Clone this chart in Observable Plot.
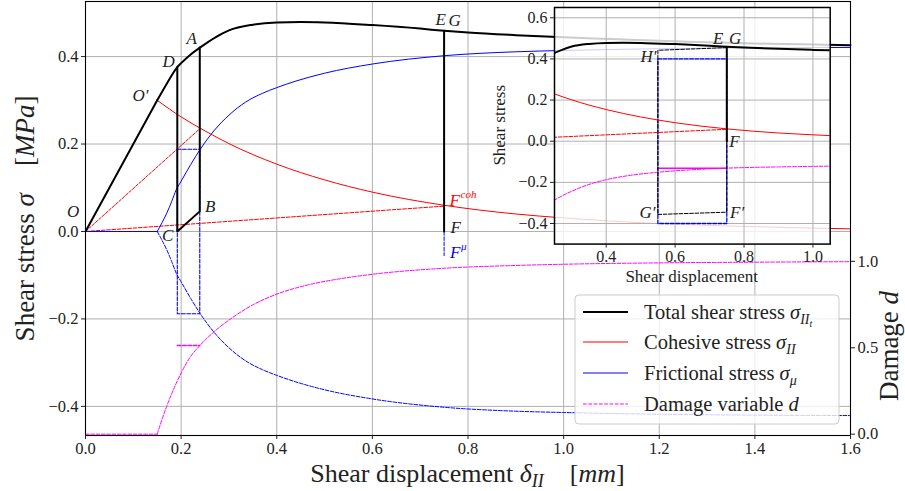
<!DOCTYPE html>
<html><head><meta charset="utf-8">
<script src="https://cdn.jsdelivr.net/npm/d3@7"></script>
<script src="https://cdn.jsdelivr.net/npm/@observablehq/plot@0.6"></script>
<style>
body{margin:0;background:#fff;}
#wrap{position:relative;width:905px;height:491px;overflow:hidden;font-family:"Liberation Serif",serif;}
#wrap svg{position:absolute;overflow:visible;}
</style></head><body><div id="wrap"></div>
<script>
// ---------- data ----------
const xTicks = [0, 0.2, 0.4, 0.6, 0.8, 1.0, 1.2, 1.4, 1.6];
const yTicks = [-0.4, -0.2, 0, 0.2, 0.4];
const dTicks = [0, 0.5, 1.0];
const insetXTicks = [0.4, 0.6, 0.8, 1.0];
const insetYTicks = [-0.4, -0.2, 0, 0.2, 0.4, 0.6];

const dispTotal = [0, 0.15, 0.17, 0.192, 0.2, 0.22, 0.24, 0.27, 0.3, 0.35, 0.4, 0.45, 0.5, 0.6, 0.7, 0.75, 0.8, 0.9, 1.0, 1.1, 1.2, 1.3, 1.4, 1.5, 1.6];
const totalStress = [0, 0.30, 0.338, 0.376, 0.385, 0.405, 0.421, 0.443, 0.46, 0.473, 0.478, 0.479, 0.478, 0.472, 0.464, 0.459, 0.455, 0.449, 0.444, 0.44, 0.436, 0.433, 0.43, 0.428, 0.426];

const dispCoh = [0.15, 0.2, 0.25, 0.3, 0.4, 0.5, 0.6, 0.75, 0.9, 1.0, 1.2, 1.4, 1.6];
const cohStress = [0.30, 0.262, 0.23, 0.201, 0.154, 0.118, 0.09, 0.06, 0.04, 0.031, 0.018, 0.011, 0.006];

const dispFric = [0, 0.15, 0.16, 0.17, 0.18, 0.19, 0.2, 0.22, 0.24, 0.27, 0.3, 0.335, 0.37, 0.4, 0.44, 0.5, 0.6, 0.75, 0.9, 1.0, 1.2, 1.4, 1.6];
const fricStress = [0, 0, 0.02, 0.042, 0.068, 0.096, 0.115, 0.153, 0.188, 0.232, 0.266, 0.296, 0.316, 0.329, 0.344, 0.362, 0.383, 0.402, 0.411, 0.414, 0.418, 0.42, 0.421];

const dispDamage = [0, 0.15, 0.16, 0.17, 0.18, 0.19, 0.2, 0.22, 0.24, 0.27, 0.3, 0.35, 0.4, 0.46, 0.53, 0.6, 0.75, 0.9, 1.0, 1.2, 1.4, 1.6];
const damage = [0, 0, 0.085, 0.162, 0.232, 0.296, 0.354, 0.45, 0.515, 0.595, 0.66, 0.748, 0.81, 0.86, 0.898, 0.925, 0.96, 0.976, 0.983, 0.991, 0.995, 0.998];

// unloading / reloading paths (main)
const cycleX = [0.192, 0.192, 0.239, 0.239];          // D C B A
const cycleY = [0.376, 0, 0.046, 0.421];
const cohSecantX = [0, 0.239], cohSecantY = [0, 0.235];
const cohSecant2X = [0, 0.75], cohSecant2Y = [0, 0.058];
const fricBoxX = [0.192, 0.239, 0.239, 0.192, 0.192];
const fricBoxY = [0.188, 0.188, -0.188, -0.188, 0.188];
const damageHoldX = [0.192, 0.239], damageHoldY = [0.513, 0.513];
const unloadEX = [0.75, 0.75], unloadEY = [0.459, 0];
const fricDropX = [0.75, 0.75], fricDropY = [0, -0.055];

// inset paths
const insetFricBoxX = [0.55, 0.75, 0.75, 0.55, 0.55];
const insetFricBoxY = [0.40, 0.40, -0.40, -0.40, 0.40];
const insetPathX = [0.75, 0.55, 0.55, 0.75, 0.75];     // E H' G' F' F
const insetPathY = [0.455, 0.442, -0.356, -0.345, 0];
const insetHoldX = [0.55, 0.75], insetHoldD = [0.96, 0.96];

// point labels
const mainLabelText = ["O", "O\u2032", "D", "A", "B", "C", "E", "G", "F"];
const mainLabelX = [-0.026, 0.115, 0.174, 0.222, 0.261, 0.172, 0.743, 0.772, 0.774];
const mainLabelY = [0.046, 0.311, 0.389, 0.442, 0.056, -0.01, 0.484, 0.482, 0.009];
const insetLabelText = ["E", "G", "H\u2032", "F", "G\u2032", "F\u2032"];
const insetLabelX = [0.725, 0.774, 0.523, 0.772, 0.52, 0.78];
const insetLabelY = [0.498, 0.498, 0.414, 0.0, -0.345, -0.345];

// ---------- scales ----------
const yDom = [-0.4666, 0.526];
const dDom = [-0.0076, 2.503];          // twin (damage) axis of the main chart
const yDomI = [-0.5, 0.65];
const dDomI = [-0.027, 3.048];          // damage mapping inside the inset
const dToY = d => yDom[0] + (d - dDom[0]) / (dDom[1] - dDom[0]) * (yDom[1] - yDom[0]);
const yToD = y => dDom[0] + (y - yDom[0]) / (yDom[1] - yDom[0]) * (dDom[1] - dDom[0]);
const dToYI = d => yDomI[0] + (d - dDomI[0]) / (dDomI[1] - dDomI[0]) * (yDomI[1] - yDomI[0]);

const rows = (xs, ys, f = v => v) => xs.map((x, i) => ({x, y: f(ys[i])}));
const FONT = "Liberation Serif";
const RED = "#ff0000", BLUE = "#0000ff", MAG = "#ff00ff";
const fmt = d3.format(".1f");
const GRID = {stroke: "#b0b0b0", strokeOpacity: 1, strokeWidth: 1};

// ---------- main chart ----------
const main = Plot.plot({
  width: 905, height: 491,
  marginLeft: 85, marginRight: 55, marginTop: 1, marginBottom: 56,
  style: {fontFamily: FONT, fontSize: "16.5px", color: "#222", background: "transparent", overflow: "visible"},
  x: {domain: [0, 1.6]},
  y: {domain: yDom},
  marks: [
    Plot.gridX(xTicks, GRID),
    Plot.gridY(yTicks, GRID),
    // damage (twin axis)
    Plot.line(rows(dispDamage.slice(0, 2), damage.slice(0, 2), dToY), {x: "x", y: "y", stroke: MAG, strokeWidth: 1, strokeDasharray: "3.7,1.6"}),
    Plot.line(rows(dispDamage.slice(1), damage.slice(1), dToY), {x: "x", y: "y", stroke: MAG, strokeWidth: 1, strokeDasharray: "3.7,1.6", curve: "monotone-x"}),
    Plot.line(rows(damageHoldX, damageHoldY, dToY), {x: "x", y: "y", stroke: MAG, strokeWidth: 1.3, strokeDasharray: "3.7,1.6"}),
    // frictional (negative, dashed)
    Plot.line(rows(dispFric.slice(1), fricStress.slice(1), v => -v), {x: "x", y: "y", stroke: BLUE, strokeWidth: 1, strokeDasharray: "3.7,1.6", curve: "monotone-x"}),
    Plot.line(rows(fricBoxX, fricBoxY), {x: "x", y: "y", stroke: BLUE, strokeWidth: 1.1, strokeDasharray: "3.7,1.6"}),
    Plot.line(rows(fricDropX, fricDropY), {x: "x", y: "y", stroke: BLUE, strokeWidth: 1, strokeDasharray: "3.7,1.6"}),
    // cohesive secants
    Plot.line(rows(cohSecantX, cohSecantY), {x: "x", y: "y", stroke: RED, strokeWidth: 1, strokeDasharray: "3,1.5"}),
    Plot.line(rows(cohSecant2X, cohSecant2Y), {x: "x", y: "y", stroke: RED, strokeWidth: 1, strokeDasharray: "3.7,1.6"}),
    // frictional (solid)
    Plot.line(rows(dispFric.slice(0, 2), fricStress.slice(0, 2)), {x: "x", y: "y", stroke: BLUE, strokeWidth: 1}),
    Plot.line(rows(dispFric.slice(1), fricStress.slice(1)), {x: "x", y: "y", stroke: BLUE, strokeWidth: 1, curve: "monotone-x"}),
    // cohesive
    Plot.line(rows(dispCoh, cohStress), {x: "x", y: "y", stroke: RED, strokeWidth: 1, curve: "monotone-x"}),
    // total
    Plot.line(rows(dispTotal.slice(0, 2), totalStress.slice(0, 2)), {x: "x", y: "y", stroke: "black", strokeWidth: 2}),
    Plot.line(rows(dispTotal.slice(1), totalStress.slice(1)), {x: "x", y: "y", stroke: "black", strokeWidth: 2, curve: "monotone-x"}),
    Plot.line(rows(cycleX, cycleY), {x: "x", y: "y", stroke: "black", strokeWidth: 2}),
    Plot.line(rows(unloadEX, unloadEY), {x: "x", y: "y", stroke: "black", strokeWidth: 2}),
    // labels
    Plot.text(mainLabelText, {x: (d, i) => mainLabelX[i], y: (d, i) => mainLabelY[i], text: d => d, fontStyle: "italic", fontSize: 17, fill: "#222"}),
    Plot.text(["F"], {x: [0.772], y: [0.07], text: d => d, fontStyle: "italic", fontSize: 17, fill: RED}),
    Plot.text(["coh"], {x: [0.772], y: [0.07], text: d => d, fontStyle: "italic", fontSize: 11, fill: RED, textAnchor: "start", dx: 6, dy: -6}),
    Plot.text(["F"], {x: [0.773], y: [-0.048], text: d => d, fontStyle: "italic", fontSize: 17, fill: BLUE}),
    Plot.text(["\u03bc"], {x: [0.773], y: [-0.048], text: d => d, fontStyle: "italic", fontSize: 11, fill: BLUE, textAnchor: "start", dx: 6, dy: -6}),
    Plot.frame({stroke: "black", strokeWidth: 1.1}),
    Plot.axisX(xTicks, {tickSize: 4, tickPadding: 3, tickFormat: fmt, label: null}),
    Plot.axisY(yTicks, {anchor: "left", tickSize: 4, tickPadding: 3, tickFormat: fmt, label: null}),
    Plot.axisY(dTicks.map(dToY), {anchor: "right", tickSize: 4, tickPadding: 3, tickFormat: v => fmt(yToD(v)), label: null})
  ]
});
main.style.left = "0px"; main.style.top = "0px";
document.getElementById("wrap").appendChild(main);

const msvg = d3.select(main);
function addRich(g, parts) {
  parts.forEach(p => {
    const t = g.append("tspan").text(p.t);
    if (p.i) t.attr("font-style", "italic");
    if (p.dy) t.attr("dy", p.dy);
    if (p.fs) t.attr("font-size", p.fs);
  });
}
// axis titles
const lt = msvg.append("text").attr("transform", "translate(34,218.5) rotate(-90)")
  .attr("text-anchor", "middle").attr("font-size", 27).attr("fill", "#222").attr("font-family", FONT).style("white-space", "pre");
addRich(lt, [{t: "Shear stress "}, {t: "\u03c3", i: 1}, {t: "\u2003["}, {t: "MPa", i: 1}, {t: "]"}]);
const bt = msvg.append("text").attr("x", 467.5).attr("y", 482)
  .attr("text-anchor", "middle").attr("font-size", 26).attr("fill", "#222").attr("font-family", FONT).style("white-space", "pre");
addRich(bt, [{t: "Shear displacement "}, {t: "\u03b4", i: 1}, {t: "II", i: 1, dy: 5, fs: 18}, {t: "\u2003[", dy: -5}, {t: "mm", i: 1}, {t: "]"}]);
const rt = msvg.append("text").attr("transform", "translate(898,346) rotate(-90)")
  .attr("text-anchor", "middle").attr("font-size", 27).attr("fill", "#222").attr("font-family", FONT);
addRich(rt, [{t: "Damage "}, {t: "d", i: 1}]);

// legend
const legendNames = ["Total shear stress", "Cohesive stress", "Frictional stress", "Damage variable"];
const legendColors = ["black", RED, BLUE, MAG];
const legendWidths = [2, 1, 1, 1];
const legendDash = [null, null, null, "3.7,1.6"];
const lg = msvg.append("g").attr("font-family", FONT).attr("font-size", 20.5).attr("fill", "#222");
lg.append("rect").attr("x", 575).attr("y", 295).attr("width", 264).attr("height", 129).attr("rx", 4)
  .attr("fill", "white").attr("fill-opacity", 0.8).attr("stroke", "#cccccc");
const ly = [312, 342, 373, 404];
legendNames.forEach((n, i) => {
  const l = lg.append("line").attr("x1", 583).attr("x2", 628).attr("y1", ly[i]).attr("y2", ly[i])
    .attr("stroke", legendColors[i]).attr("stroke-width", legendWidths[i]);
  if (legendDash[i]) l.attr("stroke-dasharray", legendDash[i]);
  const t = lg.append("text").attr("x", 644).attr("y", ly[i] + 7).attr("text-anchor", "start").style("white-space", "pre");
  if (i === 0) addRich(t, [{t: n + " "}, {t: "\u03c3", i: 1}, {t: "II", i: 1, dy: 5, fs: 14}, {t: "t", i: 1, dy: 3, fs: 10}]);
  if (i === 1) addRich(t, [{t: n + " "}, {t: "\u03c3", i: 1}, {t: "II", i: 1, dy: 5, fs: 14}]);
  if (i === 2) addRich(t, [{t: n + " "}, {t: "\u03c3", i: 1}, {t: "\u03bc", i: 1, dy: 5, fs: 14}]);
  if (i === 3) addRich(t, [{t: n + " "}, {t: "d", i: 1}]);
});

// ---------- inset ----------
const inset = Plot.plot({
  width: 358.7, height: 289.6,
  marginLeft: 75, marginRight: 8, marginTop: 5, marginBottom: 48,
  style: {fontFamily: FONT, fontSize: "16px", color: "#222", background: "transparent", overflow: "visible"},
  x: {domain: [0.25, 1.05]},
  y: {domain: yDomI},
  marks: [
    Plot.frame({fill: "white", fillOpacity: 0.8, stroke: null}),
    Plot.gridX(insetXTicks, GRID),
    Plot.gridY(insetYTicks, GRID),
    Plot.line(rows(dispDamage, damage, dToYI), {x: "x", y: "y", stroke: MAG, strokeWidth: 1, strokeDasharray: "3.7,1.6", curve: "monotone-x", clip: true}),
    Plot.line(rows(insetHoldX, insetHoldD, dToYI), {x: "x", y: "y", stroke: MAG, strokeWidth: 1.5}),
    Plot.line(rows(insetFricBoxX, insetFricBoxY), {x: "x", y: "y", stroke: BLUE, strokeWidth: 1.3, strokeDasharray: "3.7,1.6"}),
    Plot.line(rows(insetPathX, insetPathY), {x: "x", y: "y", stroke: "black", strokeWidth: 1, strokeDasharray: "3.7,1.6"}),
    Plot.line(rows(cohSecant2X, cohSecant2Y), {x: "x", y: "y", stroke: RED, strokeWidth: 1, strokeDasharray: "3.7,1.6", clip: true}),
    Plot.line(rows(dispCoh, cohStress), {x: "x", y: "y", stroke: RED, strokeWidth: 1, curve: "monotone-x", clip: true}),
    Plot.line(rows(dispTotal.slice(1), totalStress.slice(1)), {x: "x", y: "y", stroke: "black", strokeWidth: 2, curve: "monotone-x", clip: true}),
    Plot.line(rows(unloadEX, unloadEY), {x: "x", y: "y", stroke: "black", strokeWidth: 2}),
    Plot.text(insetLabelText, {x: (d, i) => insetLabelX[i], y: (d, i) => insetLabelY[i], text: d => d, fontStyle: "italic", fontSize: 17, fill: "#222"}),
    Plot.frame({stroke: "black", strokeWidth: 1.5}),
    Plot.axisX(insetXTicks, {tickSize: 4, tickPadding: 3, tickFormat: fmt, label: null}),
    Plot.axisY(insetYTicks, {anchor: "left", tickSize: 4, tickPadding: 3, tickFormat: fmt, label: null})
  ]
});
inset.style.left = "479.3px"; inset.style.top = "1.7px";
document.getElementById("wrap").appendChild(inset);
const isvg = d3.select(inset);
isvg.append("text").attr("transform", "translate(20.7,123.3) rotate(-90)").attr("text-anchor", "middle")
  .attr("dominant-baseline", "central").attr("font-size", 17).attr("fill", "#222").attr("font-family", FONT).text("Shear stress");
isvg.append("text").attr("x", 212.7).attr("y", 274.3).attr("text-anchor", "middle")
  .attr("dominant-baseline", "central").attr("font-size", 17).attr("fill", "#222").attr("font-family", FONT).text("Shear displacement");
</script></body></html>
